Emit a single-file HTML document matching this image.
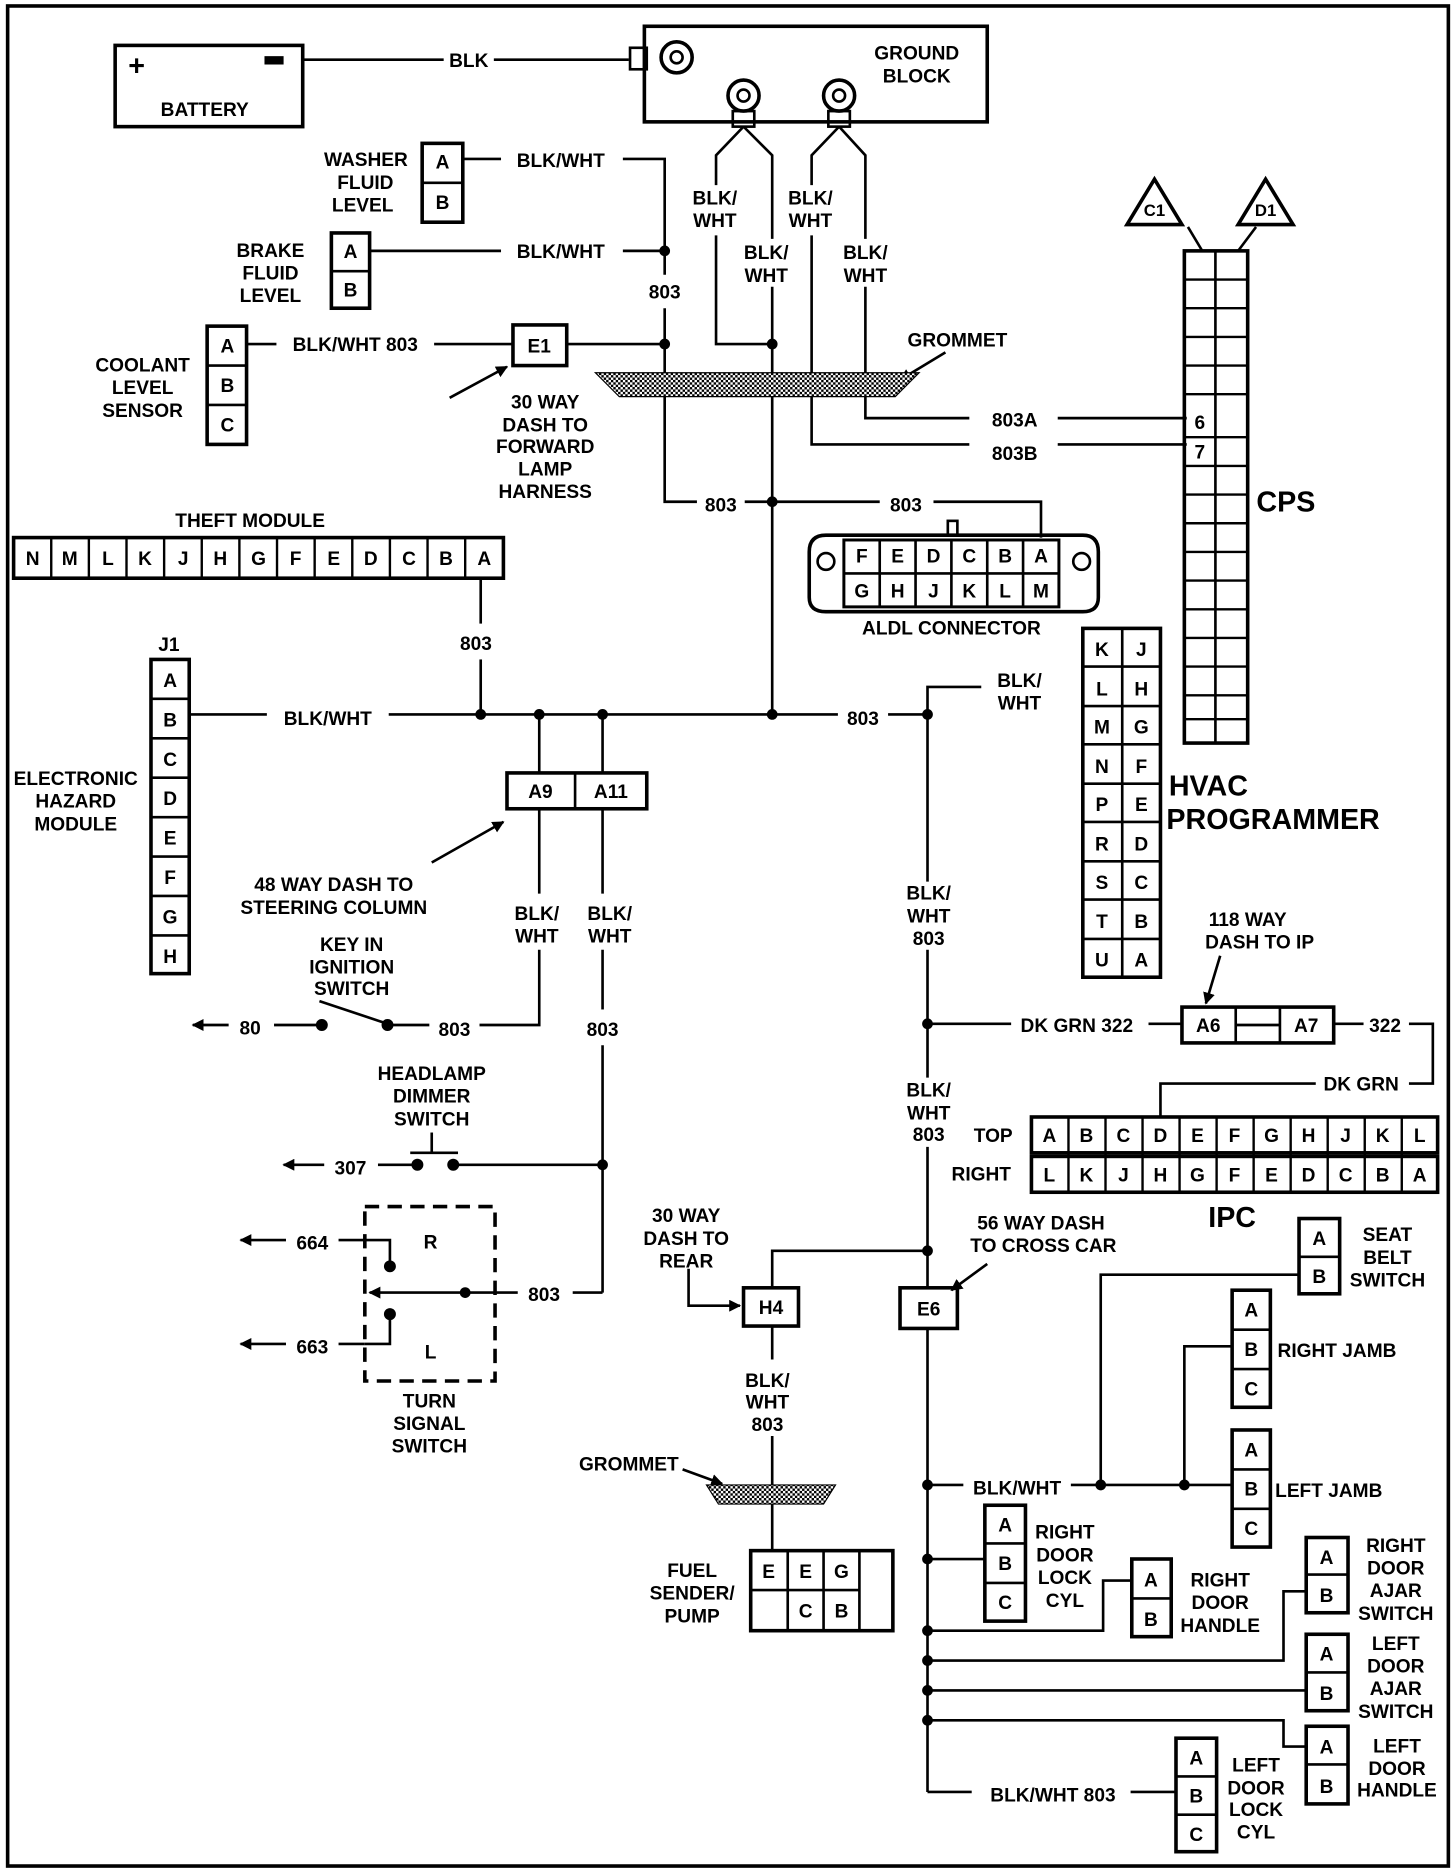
<!DOCTYPE html>
<html><head><meta charset="utf-8"><style>
html,body{margin:0;padding:0;background:#fff;}
svg{display:block;}
text{font-family:"Liberation Sans",sans-serif;font-weight:bold;font-size:16px;fill:#000;text-anchor:middle;}
.l{text-anchor:start;}
.r{text-anchor:end;}
.big{font-size:24px;}
</style></head><body>
<svg width="1456" height="1872" viewBox="0 0 1216 1567" xmlns="http://www.w3.org/2000/svg">
<defs>
<pattern id="h" width="4" height="4" patternUnits="userSpaceOnUse"><rect width="4" height="4" fill="#fff"/><rect width="2" height="2" fill="#000"/><rect x="2" y="2" width="2" height="2" fill="#000"/></pattern>
<marker id="ar" markerWidth="10" markerHeight="10" refX="9" refY="5" orient="auto" markerUnits="userSpaceOnUse"><path d="M0,0 L10,5 L0,10 Z" fill="#000"/></marker>
</defs>
<rect x="0" y="0" width="1216" height="1567" fill="#fff"/>
<rect x="5" y="5" width="1206" height="1557" fill="none" stroke="#000" stroke-width="3"/>
<g fill="none" stroke="#000" stroke-width="2.2">
<rect x="95" y="38" width="157" height="68" stroke-width="3"/>
<line x1="252" y1="50" x2="370" y2="50"/><line x1="412" y1="50" x2="525" y2="50"/>
<rect x="538" y="22" width="287" height="80" stroke-width="3"/>
<rect x="526" y="40" width="14" height="18"/>
<circle cx="565" cy="48" r="13" stroke-width="3"/><circle cx="565" cy="48" r="5"/>
<circle cx="621" cy="80" r="13" stroke-width="3"/><circle cx="621" cy="80" r="5"/>
<circle cx="701" cy="80" r="13" stroke-width="3"/><circle cx="701" cy="80" r="5"/>
<rect x="612" y="93" width="18" height="13"/><rect x="692" y="93" width="18" height="13"/>
<polyline points="621,106 598,130 598,155"/><polyline points="598,197 598,288 645,288"/>
<polyline points="621,106 645,130 645,200"/><line x1="645" y1="240" x2="645" y2="598"/>
<polyline points="701,106 678,130 678,155"/><polyline points="678,197 678,372 810,372"/>
<polyline points="701,106 723,130 723,200"/><polyline points="723,240 723,350 810,350"/>
<line x1="884" y1="350" x2="992" y2="350"/><line x1="884" y1="372" x2="992" y2="372"/>
<rect x="352" y="120" width="34" height="66" stroke-width="3"/><line x1="352" y1="153" x2="386" y2="153"/>
<rect x="276" y="195" width="32" height="63" stroke-width="3"/><line x1="276" y1="227" x2="308" y2="227"/>
<line x1="386" y1="133" x2="418" y2="133"/><polyline points="520,133 555,133 555,230"/>
<line x1="308" y1="210" x2="418" y2="210"/><line x1="520" y1="210" x2="555" y2="210"/>
<polyline points="555,258 555,420 582,420"/><line x1="622" y1="420" x2="735" y2="420"/><polyline points="780,420 870,420 870,450"/>
<rect x="172" y="273" width="33" height="99" stroke-width="3"/><line x1="172" y1="306" x2="205" y2="306"/><line x1="172" y1="339" x2="205" y2="339"/>
<line x1="205" y1="288" x2="230" y2="288"/><line x1="362" y1="288" x2="428" y2="288"/>
<rect x="428" y="272" width="45" height="34" stroke-width="3"/><line x1="473" y1="288" x2="555" y2="288"/>
<line x1="375" y1="333" x2="423" y2="307" marker-end="url(#ar)"/>
<line x1="790" y1="295" x2="752" y2="318" marker-end="url(#ar)"/>
<rect x="990" y="210" width="53" height="412" stroke-width="3"/>
<line x1="1016" y1="210" x2="1016" y2="622"/>
<line x1="993" y1="190" x2="1005" y2="210"/><line x1="1050" y1="190" x2="1035" y2="210"/>
<polygon points="965,150 942,188 988,188" stroke-width="3"/>
<polygon points="1058,150 1035,188 1081,188" stroke-width="3"/>
<path d="M690,448 L905,448 Q918,448 918,462 L918,500 Q918,512 905,512 L690,512 Q676,512 676,500 L676,462 Q676,448 690,448 Z" stroke-width="3"/>
<rect x="705" y="452" width="180" height="56" stroke-width="2.5"/>
<line x1="705" y1="480" x2="885" y2="480"/>
<line x1="735" y1="452" x2="735" y2="508"/><line x1="765" y1="452" x2="765" y2="508"/><line x1="795" y1="452" x2="795" y2="508"/><line x1="825" y1="452" x2="825" y2="508"/><line x1="855" y1="452" x2="855" y2="508"/>
<rect x="792" y="436" width="8" height="12"/>
<circle cx="690" cy="470" r="7"/><circle cx="904" cy="470" r="7"/>
<rect x="10" y="450" width="410" height="34" stroke-width="3"/>
<line x1="401" y1="484" x2="401" y2="522"/><line x1="401" y1="552" x2="401" y2="598"/>
<rect x="125" y="552" width="32" height="263" stroke-width="3"/>
<line x1="125" y1="585" x2="157" y2="585"/><line x1="125" y1="618" x2="157" y2="618"/><line x1="125" y1="651" x2="157" y2="651"/><line x1="125" y1="684" x2="157" y2="684"/><line x1="125" y1="717" x2="157" y2="717"/><line x1="125" y1="750" x2="157" y2="750"/><line x1="125" y1="783" x2="157" y2="783"/>
<line x1="157" y1="598" x2="222" y2="598"/><line x1="324" y1="598" x2="700" y2="598"/><line x1="742" y1="598" x2="775" y2="598"/>
<line x1="450" y1="598" x2="450" y2="647"/><line x1="503" y1="598" x2="503" y2="647"/>
<rect x="423" y="647" width="117" height="30" stroke-width="3"/><line x1="480" y1="647" x2="480" y2="677"/>
<line x1="450" y1="677" x2="450" y2="748"/><polyline points="450,795 450,858 400,858"/>
<line x1="503" y1="677" x2="503" y2="748"/><line x1="503" y1="795" x2="503" y2="845"/><line x1="503" y1="875" x2="503" y2="1082"/>
<line x1="360" y1="722" x2="420" y2="688" marker-end="url(#ar)"/>
<line x1="323" y1="858" x2="358" y2="858"/><line x1="323" y1="857" x2="266" y2="838"/>
<line x1="268" y1="858" x2="228" y2="858"/><line x1="190" y1="858" x2="160" y2="858" marker-end="url(#ar)"/>
<line x1="360" y1="948" x2="360" y2="965"/><line x1="342" y1="965" x2="382" y2="965"/>
<line x1="378" y1="975" x2="503" y2="975"/>
<line x1="348" y1="975" x2="315" y2="975"/><line x1="270" y1="975" x2="236" y2="975" marker-end="url(#ar)"/>
<rect x="304" y="1010" width="109" height="146" stroke-dasharray="12,7" stroke-width="3"/>
<line x1="503" y1="1082" x2="478" y2="1082"/><line x1="432" y1="1082" x2="308" y2="1082" marker-end="url(#ar)"/>
<polyline points="325,1060 325,1038 304,1038"/><polyline points="304,1038 282,1038"/><line x1="238" y1="1038" x2="200" y2="1038" marker-end="url(#ar)"/>
<polyline points="325,1100 325,1125 304,1125"/><polyline points="304,1125 282,1125"/><line x1="238" y1="1125" x2="200" y2="1125" marker-end="url(#ar)"/>
<polyline points="775,598 775,575 820,575"/>
<line x1="775" y1="598" x2="775" y2="738"/><line x1="775" y1="795" x2="775" y2="902"/><line x1="775" y1="960" x2="775" y2="1078"/><line x1="775" y1="1112" x2="775" y2="1500"/>
<line x1="775" y1="857" x2="845" y2="857"/><line x1="960" y1="857" x2="988" y2="857"/>
<rect x="988" y="843" width="127" height="30" stroke-width="3"/><line x1="1033" y1="843" x2="1033" y2="873"/><line x1="1070" y1="843" x2="1070" y2="873"/><line x1="1033" y1="858" x2="1070" y2="858"/>
<line x1="1115" y1="857" x2="1140" y2="857"/><polyline points="1178,857 1198,857 1198,907 1178,907"/><polyline points="1100,907 970,907 970,935"/>
<line x1="1020" y1="800" x2="1008" y2="840" marker-end="url(#ar)"/>
<rect x="905" y="526" width="65" height="292" stroke-width="3"/><line x1="938" y1="526" x2="938" y2="818"/>
<line x1="905" y1="558" x2="970" y2="558"/><line x1="905" y1="591" x2="970" y2="591"/><line x1="905" y1="623" x2="970" y2="623"/><line x1="905" y1="656" x2="970" y2="656"/><line x1="905" y1="688" x2="970" y2="688"/><line x1="905" y1="721" x2="970" y2="721"/><line x1="905" y1="753" x2="970" y2="753"/><line x1="905" y1="786" x2="970" y2="786"/>
<rect x="862" y="935" width="340" height="30" stroke-width="3"/><rect x="862" y="968" width="340" height="30" stroke-width="3"/>
<polyline points="775,1047 645,1047 645,1078"/>
<rect x="621" y="1078" width="46" height="32" stroke-width="3"/>
<rect x="752" y="1078" width="48" height="34" stroke-width="3"/>
<polyline points="575,1062 575,1093 618,1093" marker-end="url(#ar)"/>
<line x1="825" y1="1058" x2="795" y2="1080" marker-end="url(#ar)"/>
<line x1="645" y1="1110" x2="645" y2="1138"/><line x1="645" y1="1202" x2="645" y2="1298"/>
<line x1="570" y1="1230" x2="603" y2="1242" marker-end="url(#ar)"/>
<rect x="627" y="1298" width="119" height="67" stroke-width="3"/><line x1="627" y1="1331" x2="718" y2="1331"/>
<line x1="658" y1="1298" x2="658" y2="1365"/><line x1="688" y1="1298" x2="688" y2="1365"/><line x1="718" y1="1298" x2="718" y2="1365"/>
<line x1="775" y1="1243" x2="805" y2="1243"/><line x1="895" y1="1243" x2="1030" y2="1243"/>
<polyline points="920,1243 920,1067 1086,1067"/><polyline points="990,1243 990,1127 1030,1127"/>
<rect x="1086" y="1020" width="34" height="63" stroke-width="3"/><line x1="1086" y1="1052" x2="1120" y2="1052"/>
<rect x="1030" y="1080" width="32" height="98" stroke-width="3"/><line x1="1030" y1="1113" x2="1062" y2="1113"/><line x1="1030" y1="1146" x2="1062" y2="1146"/>
<rect x="1030" y="1197" width="32" height="98" stroke-width="3"/><line x1="1030" y1="1230" x2="1062" y2="1230"/><line x1="1030" y1="1263" x2="1062" y2="1263"/>
<rect x="823" y="1260" width="34" height="97" stroke-width="3"/><line x1="823" y1="1292" x2="857" y2="1292"/><line x1="823" y1="1325" x2="857" y2="1325"/>
<line x1="775" y1="1305" x2="823" y2="1305"/>
<rect x="946" y="1305" width="33" height="65" stroke-width="3"/><line x1="946" y1="1338" x2="979" y2="1338"/>
<polyline points="775,1365 922,1365 922,1323 946,1323"/>
<rect x="1092" y="1287" width="35" height="63" stroke-width="3"/><line x1="1092" y1="1318" x2="1127" y2="1318"/>
<polyline points="775,1390 1073,1390 1073,1332 1092,1332"/>
<rect x="1092" y="1368" width="35" height="64" stroke-width="3"/><line x1="1092" y1="1400" x2="1127" y2="1400"/>
<line x1="775" y1="1415" x2="1092" y2="1415"/>
<rect x="1092" y="1445" width="35" height="65" stroke-width="3"/><line x1="1092" y1="1477" x2="1127" y2="1477"/>
<polyline points="775,1440 1073,1440 1073,1462 1092,1462"/>
<rect x="983" y="1455" width="34" height="95" stroke-width="3"/><line x1="983" y1="1487" x2="1017" y2="1487"/><line x1="983" y1="1519" x2="1017" y2="1519"/>
<line x1="775" y1="1500" x2="812" y2="1500"/><line x1="945" y1="1500" x2="983" y2="1500"/>
</g>
<g stroke="#000" stroke-width="2">
<line x1="41.5" y1="450" x2="41.5" y2="484"/><line x1="73" y1="450" x2="73" y2="484"/><line x1="104.5" y1="450" x2="104.5" y2="484"/><line x1="136" y1="450" x2="136" y2="484"/><line x1="167.5" y1="450" x2="167.5" y2="484"/><line x1="199" y1="450" x2="199" y2="484"/><line x1="230.5" y1="450" x2="230.5" y2="484"/><line x1="262" y1="450" x2="262" y2="484"/><line x1="293.5" y1="450" x2="293.5" y2="484"/><line x1="325" y1="450" x2="325" y2="484"/><line x1="356.5" y1="450" x2="356.5" y2="484"/><line x1="388" y1="450" x2="388" y2="484"/>
<line x1="893" y1="935" x2="893" y2="998"/><line x1="924" y1="935" x2="924" y2="998"/><line x1="955" y1="935" x2="955" y2="998"/><line x1="986" y1="935" x2="986" y2="998"/><line x1="1017" y1="935" x2="1017" y2="998"/><line x1="1048" y1="935" x2="1048" y2="998"/><line x1="1079" y1="935" x2="1079" y2="998"/><line x1="1110" y1="935" x2="1110" y2="998"/><line x1="1141" y1="935" x2="1141" y2="998"/><line x1="1172" y1="935" x2="1172" y2="998"/>
<line x1="990" y1="234" x2="1043" y2="234"/><line x1="990" y1="258" x2="1043" y2="258"/><line x1="990" y1="282" x2="1043" y2="282"/><line x1="990" y1="306" x2="1043" y2="306"/><line x1="990" y1="330" x2="1043" y2="330"/><line x1="990" y1="366" x2="1043" y2="366"/><line x1="990" y1="390" x2="1043" y2="390"/><line x1="990" y1="414" x2="1043" y2="414"/><line x1="990" y1="438" x2="1043" y2="438"/><line x1="990" y1="462" x2="1043" y2="462"/><line x1="990" y1="486" x2="1043" y2="486"/><line x1="990" y1="510" x2="1043" y2="510"/><line x1="990" y1="534" x2="1043" y2="534"/><line x1="990" y1="558" x2="1043" y2="558"/><line x1="990" y1="582" x2="1043" y2="582"/><line x1="990" y1="602" x2="1043" y2="602"/>
</g>
<polygon points="497,312 768,312 748,332 517,332" fill="url(#h)" stroke="#000" stroke-width="1"/>
<polygon points="590,1243 698,1243 688,1259 600,1259" fill="url(#h)" stroke="#000" stroke-width="1"/>
<g fill="#000">
<circle cx="555" cy="210" r="4.5"/><circle cx="555" cy="288" r="4.5"/><circle cx="645" cy="288" r="4.5"/><circle cx="645" cy="420" r="4.5"/>
<circle cx="401" cy="598" r="4.5"/><circle cx="450" cy="598" r="4.5"/><circle cx="503" cy="598" r="4.5"/><circle cx="645" cy="598" r="4.5"/><circle cx="775" cy="598" r="4.5"/>
<circle cx="268" cy="858" r="5"/><circle cx="323" cy="858" r="5"/><circle cx="348" cy="975" r="5"/><circle cx="378" cy="975" r="5"/><circle cx="503" cy="975" r="4.5"/>
<circle cx="388" cy="1082" r="4.5"/><circle cx="325" cy="1060" r="5"/><circle cx="325" cy="1100" r="5"/>
<circle cx="775" cy="857" r="4.5"/><circle cx="775" cy="1047" r="4.5"/><circle cx="775" cy="1243" r="4.5"/><circle cx="920" cy="1243" r="4.5"/><circle cx="990" cy="1243" r="4.5"/>
<circle cx="775" cy="1305" r="4.5"/><circle cx="775" cy="1365" r="4.5"/><circle cx="775" cy="1390" r="4.5"/><circle cx="775" cy="1415" r="4.5"/><circle cx="775" cy="1440" r="4.5"/>
<rect x="220" y="47" width="16" height="7"/>
</g>
<text x="113" y="63" style="font-size:24px">+</text>
<text x="170" y="97">BATTERY</text>
<text x="391" y="56">BLK</text>
<text x="766" y="50">GROUND</text><text x="766" y="69">BLOCK</text>
<text x="340" y="139" class="r">WASHER</text><text x="328" y="158" class="r">FLUID</text><text x="328" y="177" class="r">LEVEL</text>
<text x="369" y="141">A</text><text x="369" y="175">B</text>
<text x="468" y="140">BLK/WHT</text><text x="468" y="216">BLK/WHT</text>
<text x="225" y="215">BRAKE</text><text x="225" y="234">FLUID</text><text x="225" y="253">LEVEL</text>
<text x="292" y="216">A</text><text x="292" y="248">B</text>
<text x="555" y="250">803</text>
<text x="597" y="171">BLK/</text><text x="597" y="190">WHT</text>
<text x="640" y="217">BLK/</text><text x="640" y="236">WHT</text>
<text x="677" y="171">BLK/</text><text x="677" y="190">WHT</text>
<text x="723" y="217">BLK/</text><text x="723" y="236">WHT</text>
<text x="118" y="311">COOLANT</text><text x="118" y="330">LEVEL</text><text x="118" y="349">SENSOR</text>
<text x="189" y="295">A</text><text x="189" y="328">B</text><text x="189" y="361">C</text>
<text x="296" y="294">BLK/WHT  803</text>
<text x="450" y="295">E1</text>
<text x="455" y="342">30 WAY</text><text x="455" y="361">DASH TO</text><text x="455" y="379">FORWARD</text><text x="455" y="398">LAMP</text><text x="455" y="417">HARNESS</text>
<text x="800" y="290">GROMMET</text>
<text x="848" y="357">803A</text><text x="848" y="385">803B</text>
<text x="1003" y="359">6</text><text x="1003" y="384">7</text>
<text x="965" y="181" style="font-size:14px">C1</text><text x="1058" y="181" style="font-size:14px">D1</text>
<text x="1075" y="428" class="big">CPS</text>
<text x="602" y="428">803</text><text x="757" y="428">803</text>
<text x="720" y="471">F</text><text x="750" y="471">E</text><text x="780" y="471">D</text><text x="810" y="471">C</text><text x="840" y="471">B</text><text x="870" y="471">A</text>
<text x="720" y="500">G</text><text x="750" y="500">H</text><text x="780" y="500">J</text><text x="810" y="500">K</text><text x="840" y="500">L</text><text x="870" y="500">M</text>
<text x="795" y="531">ALDL  CONNECTOR</text>
<text x="208" y="441">THEFT MODULE</text>
<text x="26" y="473">N</text><text x="57" y="473">M</text><text x="89" y="473">L</text><text x="120" y="473">K</text><text x="152" y="473">J</text><text x="183" y="473">H</text><text x="215" y="473">G</text><text x="246" y="473">F</text><text x="278" y="473">E</text><text x="309" y="473">D</text><text x="341" y="473">C</text><text x="372" y="473">B</text><text x="404" y="473">A</text>
<text x="397" y="544">803</text>
<text x="140" y="545">J1</text>
<text x="141" y="575">A</text><text x="141" y="608">B</text><text x="141" y="641">C</text><text x="141" y="674">D</text><text x="141" y="707">E</text><text x="141" y="740">F</text><text x="141" y="773">G</text><text x="141" y="806">H</text>
<text x="62" y="657">ELECTRONIC</text><text x="62" y="676">HAZARD</text><text x="62" y="695">MODULE</text>
<text x="273" y="607">BLK/WHT</text><text x="721" y="607">803</text>
<text x="451" y="668">A9</text><text x="510" y="668">A11</text>
<text x="278" y="746">48 WAY DASH TO</text><text x="278" y="765">STEERING COLUMN</text>
<text x="448" y="770">BLK/</text><text x="448" y="789">WHT</text><text x="509" y="770">BLK/</text><text x="509" y="789">WHT</text>
<text x="293" y="796">KEY IN</text><text x="293" y="815">IGNITION</text><text x="293" y="833">SWITCH</text>
<text x="208" y="866">80</text><text x="379" y="867">803</text><text x="503" y="867">803</text>
<text x="360" y="904">HEADLAMP</text><text x="360" y="923">DIMMER</text><text x="360" y="942">SWITCH</text>
<text x="292" y="983">307</text>
<text x="359" y="1045">R</text><text x="359" y="1137">L</text>
<text x="260" y="1046">664</text><text x="260" y="1133">663</text>
<text x="454" y="1089">803</text>
<text x="358" y="1178">TURN</text><text x="358" y="1197">SIGNAL</text><text x="358" y="1216">SWITCH</text>
<text x="852" y="575">BLK/</text><text x="852" y="594">WHT</text>
<text x="921" y="549">K</text><text x="954" y="549">J</text><text x="921" y="582">L</text><text x="954" y="582">H</text><text x="921" y="614">M</text><text x="954" y="614">G</text><text x="921" y="647">N</text><text x="954" y="647">F</text><text x="921" y="679">P</text><text x="954" y="679">E</text><text x="921" y="712">R</text><text x="954" y="712">D</text><text x="921" y="744">S</text><text x="954" y="744">C</text><text x="921" y="777">T</text><text x="954" y="777">B</text><text x="921" y="809">U</text><text x="954" y="809">A</text>
<text x="977" y="666" class="l big">HVAC</text><text x="975" y="694" class="l big">PROGRAMMER</text>
<text x="776" y="753">BLK/</text><text x="776" y="772">WHT</text><text x="776" y="791">803</text>
<text x="1043" y="775">118 WAY</text><text x="1053" y="794">DASH TO IP</text>
<text x="900" y="864">DK GRN  322</text>
<text x="1010" y="864">A6</text><text x="1092" y="864">A7</text><text x="1158" y="864">322</text>
<text x="1138" y="913">DK GRN</text>
<text x="776" y="918">BLK/</text><text x="776" y="937">WHT</text><text x="776" y="955">803</text>
<text x="830" y="956">TOP</text><text x="820" y="988">RIGHT</text>
<text x="877" y="956">A</text><text x="908" y="956">B</text><text x="939" y="956">C</text><text x="970" y="956">D</text><text x="1001" y="956">E</text><text x="1032" y="956">F</text><text x="1063" y="956">G</text><text x="1094" y="956">H</text><text x="1125" y="956">J</text><text x="1156" y="956">K</text><text x="1187" y="956">L</text>
<text x="877" y="989">L</text><text x="908" y="989">K</text><text x="939" y="989">J</text><text x="970" y="989">H</text><text x="1001" y="989">G</text><text x="1032" y="989">F</text><text x="1063" y="989">E</text><text x="1094" y="989">D</text><text x="1125" y="989">C</text><text x="1156" y="989">B</text><text x="1187" y="989">A</text>
<text x="1030" y="1027" class="big">IPC</text>
<text x="573" y="1023">30 WAY</text><text x="573" y="1042">DASH TO</text><text x="573" y="1061">REAR</text>
<text x="870" y="1029">56 WAY DASH</text><text x="872" y="1048">TO CROSS CAR</text>
<text x="644" y="1100">H4</text><text x="776" y="1101">E6</text>
<text x="641" y="1161">BLK/</text><text x="641" y="1179">WHT</text><text x="641" y="1198">803</text>
<text x="525" y="1231">GROMMET</text>
<text x="578" y="1320">FUEL</text><text x="578" y="1339">SENDER/</text><text x="578" y="1358">PUMP</text>
<text x="642" y="1321">E</text><text x="673" y="1321">E</text><text x="703" y="1321">G</text><text x="673" y="1354">C</text><text x="703" y="1354">B</text>
<text x="1103" y="1042">A</text><text x="1103" y="1074">B</text>
<text x="1160" y="1039">SEAT</text><text x="1160" y="1058">BELT</text><text x="1160" y="1077">SWITCH</text>
<text x="1046" y="1102">A</text><text x="1046" y="1135">B</text><text x="1046" y="1168">C</text>
<text x="1068" y="1136" class="l">RIGHT JAMB</text>
<text x="1046" y="1219">A</text><text x="1046" y="1252">B</text><text x="1046" y="1285">C</text>
<text x="1066" y="1253" class="l">LEFT JAMB</text>
<text x="850" y="1251">BLK/WHT</text>
<text x="840" y="1282">A</text><text x="840" y="1314">B</text><text x="840" y="1347">C</text>
<text x="890" y="1288">RIGHT</text><text x="890" y="1307">DOOR</text><text x="890" y="1326">LOCK</text><text x="890" y="1345">CYL</text>
<text x="962" y="1328">A</text><text x="962" y="1361">B</text>
<text x="1020" y="1328">RIGHT</text><text x="1020" y="1347">DOOR</text><text x="1020" y="1366">HANDLE</text>
<text x="1109" y="1309">A</text><text x="1109" y="1341">B</text>
<text x="1167" y="1299">RIGHT</text><text x="1167" y="1318">DOOR</text><text x="1167" y="1337">AJAR</text><text x="1167" y="1356">SWITCH</text>
<text x="1109" y="1390">A</text><text x="1109" y="1423">B</text>
<text x="1167" y="1381">LEFT</text><text x="1167" y="1400">DOOR</text><text x="1167" y="1419">AJAR</text><text x="1167" y="1438">SWITCH</text>
<text x="1109" y="1468">A</text><text x="1109" y="1501">B</text>
<text x="1168" y="1467">LEFT</text><text x="1168" y="1486">DOOR</text><text x="1168" y="1504">HANDLE</text>
<text x="880" y="1508">BLK/WHT  803</text>
<text x="1000" y="1477">A</text><text x="1000" y="1509">B</text><text x="1000" y="1541">C</text>
<text x="1050" y="1483">LEFT</text><text x="1050" y="1502">DOOR</text><text x="1050" y="1520">LOCK</text><text x="1050" y="1539">CYL</text>
</svg>
</body></html>
